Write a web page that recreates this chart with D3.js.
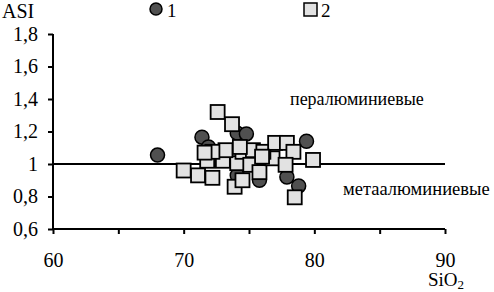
<!DOCTYPE html>
<html>

<head>
    <meta charset="UTF-8">
    <title>ASI vs SiO2</title>
    <script src="https://d3js.org/d3.v7.min.js"></script>
</head>

<body style="margin:0">

    <script>
        // series 1 (circles)
        var sio2_1 = [68.0, 71.4, 71.9, 74.1, 74.8, 79.4, 77.9, 78.8, 74.1, 75.8];
        var asi_1 = [1.055, 1.165, 1.105, 1.19, 1.185, 1.14, 0.92, 0.865, 0.93, 0.90];

        // series 2 (squares)
        var sio2_2 = [72.6, 73.7, 70.0, 71.1, 72.2, 73.9, 71.8, 73.0, 74.1, 73.2,
            72.2, 74.5, 75.3, 75.1, 75.8, 76.8, 76.1, 77.0, 77.9, 78.4,
            77.8, 79.9, 78.5, 71.6, 74.5, 76.0, 74.3];
        var asi_2 = [1.32, 1.245, 0.96, 0.93, 0.915, 0.86, 1.02, 1.02, 1.005, 1.085,
            1.075, 1.075, 1.085, 0.995, 0.95, 1.035, 1.075, 1.13, 1.13, 1.075,
            0.995, 1.025, 0.795, 1.07, 0.90, 1.045, 1.105];

        var xTicks = [60, 65, 70, 75, 80, 85, 90];
        var xLabels = [60, 70, 80, 90];
        var yTicks = [0.6, 0.8, 1, 1.2, 1.4, 1.6, 1.8];

        var width = 494, height = 292;
        var serif = "Liberation Serif";

        var svg = d3.select("body").append("svg")
            .attr("width", width)
            .attr("height", height);

        var x = d3.scaleLinear().domain([60, 90]).range([53, 445]);
        var y = d3.scaleLinear().domain([0.6, 1.8]).range([229, 34]);

        var fmt = function (d) { return String(d).replace(".", ","); };

        // y axis
        var yAxis = svg.append("g")
            .attr("transform", "translate(53,0)")
            .call(d3.axisLeft(y).tickValues(yTicks).tickSize(5).tickPadding(10).tickFormat(fmt));
        yAxis.select(".domain").attr("stroke-width", 2).attr("d", "M0," + y(1.8) + "V" + y(0.6));
        yAxis.selectAll(".tick line").attr("stroke-width", 2);
        yAxis.selectAll("text").attr("fill", "#000").attr("font-size", 20);

        // x axis
        var xAxis = svg.append("g")
            .attr("transform", "translate(0,229)")
            .call(d3.axisBottom(x).tickValues(xTicks).tickSize(5).tickPadding(19)
                .tickFormat(function (d) { return xLabels.indexOf(d) >= 0 ? d : ""; }));
        xAxis.select(".domain").attr("stroke-width", 2).attr("d", "M" + x(60) + ",0H" + x(90));
        xAxis.selectAll(".tick line").attr("stroke-width", 2);
        xAxis.selectAll("text").attr("fill", "#000").attr("font-size", 20);

        // ASI = 1 line
        svg.append("line")
            .attr("x1", x(60)).attr("x2", x(90))
            .attr("y1", y(1)).attr("y2", y(1))
            .attr("stroke", "#000").attr("stroke-width", 2);

        // axis titles
        svg.append("text").attr("x", 2).attr("y", 18).attr("font-size", 20).text("ASI");
        var sio = svg.append("text").attr("x", 428).attr("y", 286).attr("font-size", 19);
        sio.append("tspan").text("SiO");
        sio.append("tspan").attr("font-size", 13).attr("dy", 3).text("2");

        // field labels
        svg.append("text").attr("x", 290).attr("y", 105).attr("font-size", 18).text("пералюминиевые");
        svg.append("text").attr("x", 343).attr("y", 195).attr("font-size", 18.5).text("метаалюминиевые");

        // circles first, squares on top
        svg.append("g").selectAll("circle")
            .data(d3.range(sio2_1.length))
            .join("circle")
            .attr("cx", function (i) { return x(sio2_1[i]); })
            .attr("cy", function (i) { return y(asi_1[i]); })
            .attr("r", 7)
            .attr("fill", "#505050")
            .attr("stroke", "#000")
            .attr("stroke-width", 1.5);

        var s = 14;
        svg.append("g").selectAll("rect")
            .data(d3.range(sio2_2.length))
            .join("rect")
            .attr("x", function (i) { return x(sio2_2[i]) - s / 2; })
            .attr("y", function (i) { return y(asi_2[i]) - s / 2; })
            .attr("width", s).attr("height", s)
            .attr("fill", "#e2e2e2")
            .attr("stroke", "#000")
            .attr("stroke-width", 1.8);

        // legend
        svg.append("circle").attr("cx", 156).attr("cy", 9).attr("r", 6)
            .attr("fill", "#505050").attr("stroke", "#000").attr("stroke-width", 1.5);
        svg.append("text").attr("x", 167).attr("y", 17).attr("font-size", 19).text("1");
        svg.append("rect").attr("x", 304).attr("y", 3).attr("width", 13).attr("height", 13)
            .attr("fill", "#e2e2e2").attr("stroke", "#000").attr("stroke-width", 1.5);
        svg.append("text").attr("x", 321).attr("y", 17).attr("font-size", 19).text("2");

        // serif everywhere (set on each text, the axis groups carry sans-serif)
        svg.selectAll("text").attr("font-family", serif);
    </script>
</body>

</html>
